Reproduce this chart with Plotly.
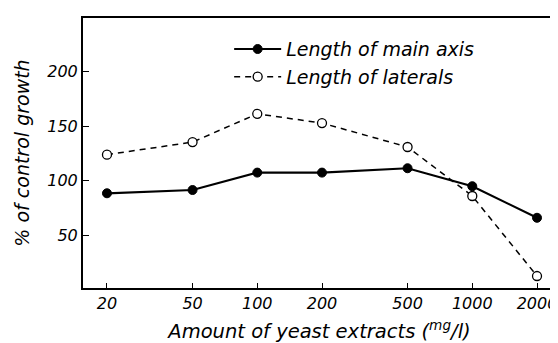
import plotly.graph_objects as go
import math

doses = [20, 50, 100, 200, 500, 1000, 2000]
main_axis = [88.5, 91.5, 107.5, 107.5, 111.5, 95, 66]
laterals = [124, 135.5, 161.5, 153, 131, 86, 12.5]
y_ticks = [50, 100, 150, 200]
x_tick_labels = ["20", "50", "100", "200", "500", "1000", "2000"]

FONT = "DejaVu Sans"

fig = go.Figure()
fig.add_trace(go.Scatter(
    x=doses, y=main_axis, mode="lines+markers", name="Length of main axis",
    line=dict(color="black", width=2.2),
    marker=dict(symbol="circle", size=9, color="black", line=dict(color="black", width=1)),
))
fig.add_trace(go.Scatter(
    x=doses, y=laterals, mode="lines+markers", name="Length of laterals",
    line=dict(color="black", width=1.5, dash="6px,5px"),
    marker=dict(symbol="circle", size=9, color="white", line=dict(color="black", width=1.3)),
))

# page body adds an 8px margin, so the figure is 8px smaller and shifted
fig.update_layout(
    width=550, height=335,
    margin=dict(l=75, r=2, t=10, b=55, autoexpand=False),
    paper_bgcolor="white", plot_bgcolor="white",
    font=dict(family=FONT, size=16, color="black", style="italic"),
    showlegend=True,
    legend=dict(x=0.309, y=0.955, xanchor="left", yanchor="top",
                bgcolor="rgba(0,0,0,0)", font=dict(size=19, style="italic"),
                itemwidth=47, tracegroupgap=0),
)
fig.update_xaxes(
    type="log", range=[math.log10(15.47), math.log10(2451)],
    tickvals=doses, ticktext=x_tick_labels,
    ticks="inside", ticklen=5, tickwidth=1.2, tickcolor="black",
    showline=True, linecolor="black", linewidth=2, mirror=True,
    showgrid=False, zeroline=False, automargin=False,
    tickfont=dict(size=16, style="italic"),
    title=dict(text="Amount of yeast extracts (<sup>mg</sup>/<i>l</i>)", font=dict(size=19.5, style="italic"), standoff=25),
)
fig.update_yaxes(
    range=[1.5, 249.5],
    tickvals=y_ticks,
    ticks="inside", ticklen=6, tickwidth=1.2, tickcolor="black",
    showline=True, linecolor="black", linewidth=2, mirror=True,
    showgrid=False, zeroline=False, automargin=False,
    tickfont=dict(size=16, style="italic"),
    title=dict(text="% of control growth", font=dict(size=19, style="italic"), standoff=13),
)

fig.write_html("out.html")
